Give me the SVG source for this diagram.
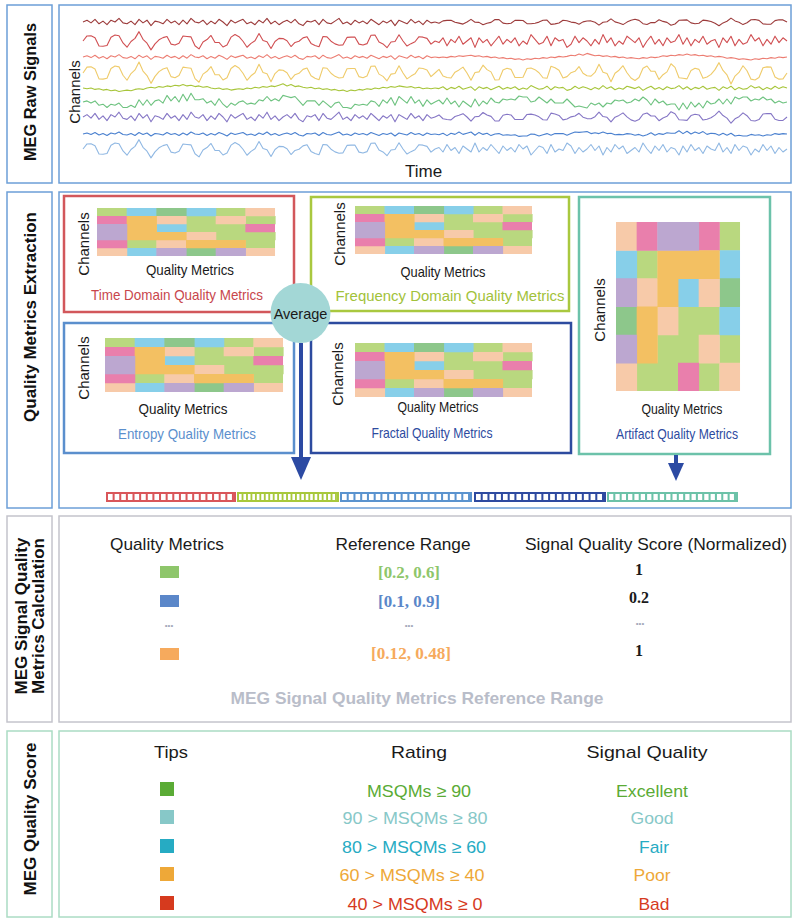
<svg xmlns="http://www.w3.org/2000/svg" xmlns:xlink="http://www.w3.org/1999/xlink" width="796" height="922" viewBox="0 0 796 922">
<style>
text{font-family:"Liberation Sans",Arial,sans-serif;fill:#1a1a1a}
.lab{font-size:17px;font-weight:bold;text-anchor:middle;fill:#111}
.ch{font-size:15px;text-anchor:middle}
.qm{font-size:15px;text-anchor:middle}
.ttl{font-size:15px;text-anchor:middle}
.hd{font-size:17px;text-anchor:middle}
.num{font-family:"Liberation Serif","Times New Roman",serif;font-size:17px;font-weight:bold;text-anchor:middle}
.dots{font-size:8px;text-anchor:middle;fill:#a3a7ba}
.rt{font-size:17px;text-anchor:middle}
.row{fill:#fff;stroke-width:1.5}
.box{fill:#fff;stroke-width:2.5}
</style>
<defs>
<path id="A" fill="none" stroke-width="1.1" stroke-linejoin="round" vector-effect="non-scaling-stroke" d="M0,0 L4,-2 8,1 12,-3 16,2 20,-1 24,3 28,-2 32,0 36,-4 40,1 44,2 48,-1 52,3 56,-3 60,1 64,-2 68,4 72,-1 76,0 80,2 84,-3 88,1 92,-1 96,3 100,-2 104,2 108,-4 112,0 116,1 120,-2 124,3 128,-1 132,2 136,-3 140,0 144,4 148,-2 152,1 156,-1 160,-3 164,2 168,0 172,3 176,-2 180,1 184,-4 188,2 192,-1 196,3 200,0 204,-2 208,1 212,-3 216,2 220,4 224,-1 228,0 232,-2 236,3 240,-3 244,1 248,2 252,-1 256,-4 260,2 264,0 268,3 272,-2 276,1 280,-1 284,2 288,-3 292,0 296,3 300,-1 304,1 308,-2 312,4 316,-2 320,0 324,2 328,-3 332,1 336,-1 340,3 344,-2 348,1 352,0"/>
<path id="B" fill="none" stroke-width="1.1" stroke-linejoin="round" vector-effect="non-scaling-stroke" d="M0,0 L4,1 8,0 12,2 16,1 20,3 24,2 28,4 32,3 36,5 40,4 44,3 48,4 52,2 56,1 60,2 64,0 68,-1 72,0 76,-2 80,-1 84,-3 88,-2 92,-4 96,-3 100,-5 104,-3 108,-4 112,-2 116,-3 120,-1 124,-2 128,0 132,1 136,0 140,2 144,1 148,3 152,2 156,1 160,2 164,0 168,1 172,-1 176,0 180,-2 184,-1 188,-3 192,-2 196,-4 200,-6 204,-3 208,-5 212,-2 216,-3 220,-1 224,0 228,-1 232,1 236,0 240,2 244,1 248,3 252,2 256,4 260,3 264,5 268,3 272,4 276,2 280,3 284,1 288,2 292,0 296,1 300,-1 304,0 308,-2 312,-1 316,-3 320,-2 324,-1 328,-2 332,0 336,-1 340,1 344,0 348,1 352,0"/>
<path id="C" fill="none" stroke-width="1.1" stroke-linejoin="round" vector-effect="non-scaling-stroke" d="M0,0 L4,-4.2 8,-4.4 12,-2.8 16,4.2 20,4.4 24,3.8 28,-3.2 32,-5 36,-4.4 40,1.6 44,5.2 48,0.4 52,-2.2 56,-7.8 60,-1.4 64,1.8 68,7.4 72,2.4 76,-1 80,-2.8 84,-3.8 88,2.6 92,3.4 96,1.8 100,-4.2 104,-3.8 108,-3.4 112,4 116,6.6 120,0.8 124,-1.2 128,-4.6 132,1.2 136,1.2 140,5 144,3.4 148,-3.2 152,-5.4 156,-3.6 160,0.2 164,5.2 168,2 172,-0.2 176,-6.2 180,-0.4 184,0.6 188,6.2 192,0.4 196,-2.2 200,-2 204,-0.2 208,4.6 212,1.2 216,0.2 220,-2.6 224,-3.6 228,2 232,3.8 236,4.8 240,-3.8 244,-3.4 248,0.2 252,2.4 256,3.6 260,3.2 264,-3 268,-3.2 272,-3.2 276,2.6 280,3.4 284,2.2 288,-4.8 292,-5 296,0.8 300,2.4 304,5.6 308,0.8 312,0.4 316,-5.2 320,0 324,4.2 328,2.2 332,0.6 336,-3.6 340,-3.2 344,-2.2 348,2.6 352,0"/>
<path id="D" fill="none" stroke-width="1.1" stroke-linejoin="round" vector-effect="non-scaling-stroke" d="M0,0 L4,-1 8,1 12,-1 16,3 20,2 24,5 28,2 32,3 36,1 40,5 44,5 48,3 52,5 56,-2 60,3 64,-2 68,3 72,-1 76,-2 80,1 84,-6 88,-1 92,-5 96,0 100,-7 104,-1 108,-8 112,-2 116,-2 120,-3 124,1 128,-1 132,3 136,-3 140,2 144,5 148,1 152,3 156,0 160,-1 164,2 168,1 172,2 176,-2 180,-1 184,-5 188,-1 192,-3 196,-1 200,-6 204,-5 208,-4 212,-5 216,-1 220,3 224,-1 228,-1 232,-1 236,3 240,-1 244,2 248,5 252,1 256,0 260,5 264,5 268,6 272,2 276,3 280,2 284,3 288,-1 292,0 296,4 300,-2 304,1 308,-4 312,3 316,-5 320,-2 324,1 328,-5 332,1 336,-2 340,4 344,-2 348,2 352,0"/>
<g id="hm">
<path fill="#b9d87f" d="M0 0h1.02v1.02h-1.02zM4 0h1.02v1.02h-1.02zM3 1h1.02v1.02h-1.02zM5 1h1.02v1.02h-1.02zM3 2h1.02v1.02h-1.02zM4 2h1.02v1.02h-1.02zM4 3h1.02v1.02h-1.02zM5 3h1.02v1.02h-1.02zM1 4h1.02v1.02h-1.02zM5 4h1v1h-1z"/>
<path fill="#87cfe9" d="M1 0h1.02v1.02h-1.02zM3 0h1.02v1.02h-1.02zM2 2h1.02v1.02h-1.02zM1 5h1.02v1h-1.02z"/>
<path fill="#8dc78b" d="M2 0h1.02v1.02h-1.02zM3 5h1.02v1h-1.02z"/>
<path fill="#f7caa9" d="M5 0h1v1.02h-1zM2 1h1.02v1.02h-1.02zM4 1h1.02v1.02h-1.02zM3 3h1.02v1.02h-1.02zM2 4h1.02v1.02h-1.02zM0 5h1.02v1h-1.02zM5 5h1v1h-1z"/>
<path fill="#e97fac" d="M0 1h1.02v1.02h-1.02zM5 2h1v1.02h-1zM0 4h1.02v1.02h-1.02z"/>
<path fill="#f3c062" d="M1 1h1.02v1.02h-1.02zM1 2h1.02v1.02h-1.02zM1 3h1.02v1.02h-1.02zM2 3h1.02v1.02h-1.02zM3 4h1.02v1.02h-1.02zM4 4h1.02v1.02h-1.02z"/>
<path fill="#bca7d0" d="M0 2h1.02v1.02h-1.02zM0 3h1.02v1.02h-1.02zM2 5h1.02v1h-1.02zM4 5h1.02v1h-1.02z"/>
</g>
</defs>

<!-- Row 1 -->
<g id="row1-label">
<rect class="row" x="7" y="5" width="45" height="178" stroke="#6c9fd7"/>
<text class="lab" transform="translate(36,92) rotate(-90)" textLength="138" lengthAdjust="spacingAndGlyphs">MEG Raw Signals</text>
</g>
<g id="raw-signals">
<rect class="row" x="59" y="5" width="732" height="178" stroke="#6c9fd7"/>
<text class="ch" transform="translate(80,92) rotate(-90)">Channels</text>
<text x="405" y="177" style="font-size:17px">Time</text>
<g id="traces">
<use href="#A" transform="translate(83,22) scale(1,0.9)" stroke="#9c3b3b"/>
<use href="#C" transform="translate(787,22) scale(-1,0.5)" stroke="#9c3b3b"/>
<use href="#C" transform="translate(83,41) scale(1,1.2)" stroke="#d04f52"/>
<use href="#A" transform="translate(787,41) scale(-1,1.6)" stroke="#d04f52"/>
<use href="#A" transform="translate(83,57) scale(1,0.6)" stroke="#ec7d72"/>
<use href="#B" transform="translate(787,57) scale(-1,0.6)" stroke="#ec7d72"/>
<use href="#C" transform="translate(83,73) scale(1,1.4)" stroke="#efcb6a"/>
<use href="#C" transform="translate(787,73) scale(-1,-1.4)" stroke="#efcb6a"/>
<use href="#B" transform="translate(83,88) scale(1,0.7)" stroke="#a7c53a"/>
<use href="#A" transform="translate(787,88) scale(-1,0.6)" stroke="#a7c53a"/>
<use href="#D" transform="translate(83,102) scale(1,1.1)" stroke="#6dc27f"/>
<use href="#D" transform="translate(787,102) scale(-1,-1.0)" stroke="#6dc27f"/>
<use href="#A" transform="translate(83,117) scale(1,1.2)" stroke="#8576c5"/>
<use href="#C" transform="translate(787,117) scale(-1,-0.8)" stroke="#8576c5"/>
<use href="#A" transform="translate(83,134) scale(1,0.5)" stroke="#4a80cf"/>
<use href="#D" transform="translate(787,134) scale(-1,0.4)" stroke="#4a80cf"/>
<use href="#C" transform="translate(83,149) scale(1,1.2)" stroke="#90b8e3"/>
<use href="#A" transform="translate(787,149) scale(-1,-1.5)" stroke="#90b8e3"/>
</g>
</g>

<!-- Row 2 -->
<g id="row2-label">
<rect class="row" x="7" y="192" width="45" height="316" stroke="#6c9fd7"/>
<text class="lab" transform="translate(36,317) rotate(-90)" textLength="210" lengthAdjust="spacingAndGlyphs">Quality Metrics Extraction</text>
</g>
<g id="extraction-panel">
<rect class="row" x="59" y="192" width="732" height="316" stroke="#6c9fd7"/>
</g>
<g id="time-domain">
<rect class="box" x="64" y="196" width="230" height="116" stroke="#d2575b"/>
<use href="#hm" transform="translate(97,208) scale(29.67,8)"/>
<text class="ch" transform="translate(89,244) rotate(-90)">Channels</text>
<text class="qm" x="190" y="275" textLength="88" lengthAdjust="spacingAndGlyphs">Quality Metrics</text>
<text class="ttl" x="177" y="300" style="fill:#c8464c" textLength="172" lengthAdjust="spacingAndGlyphs">Time Domain Quality Metrics</text>
</g>
<g id="frequency-domain">
<rect class="box" x="311" y="197" width="258" height="114" stroke="#a9c83f"/>
<use href="#hm" transform="translate(355,206) scale(29.5,8)"/>
<text class="ch" transform="translate(345,234) rotate(-90)">Channels</text>
<text class="qm" x="443" y="277" textLength="85" lengthAdjust="spacingAndGlyphs">Quality Metrics</text>
<text class="ttl" x="450" y="301" style="fill:#a2c23a" textLength="229" lengthAdjust="spacingAndGlyphs">Frequency Domain Quality Metrics</text>
</g>
<g id="entropy">
<rect class="box" x="64" y="323" width="230" height="130" stroke="#5b8fcd"/>
<use href="#hm" transform="translate(105,338) scale(29.67,9)"/>
<text class="ch" transform="translate(89,368) rotate(-90)">Channels</text>
<text class="qm" x="183" y="414" textLength="89" lengthAdjust="spacingAndGlyphs">Quality Metrics</text>
<text class="ttl" x="187" y="439" style="fill:#5b8fcd" textLength="138" lengthAdjust="spacingAndGlyphs">Entropy Quality Metrics</text>
</g>
<g id="fractal">
<rect class="box" x="311" y="323" width="260" height="130" stroke="#2d4b9f"/>
<use href="#hm" transform="translate(355,343) scale(29.5,9)"/>
<text class="ch" transform="translate(343,374) rotate(-90)">Channels</text>
<text class="qm" x="438" y="412" textLength="81" lengthAdjust="spacingAndGlyphs">Quality Metrics</text>
<text class="ttl" x="432" y="438" style="fill:#2d4b9f" textLength="121" lengthAdjust="spacingAndGlyphs">Fractal Quality Metrics</text>
</g>
<g id="artifact">
<rect class="box" x="579" y="197" width="191" height="257" stroke="#6cc2aa"/>
<g transform="translate(616,222) scale(20.67,28.17)">
<path fill="#b9d87f" d="M5 0h1v1.02h-1zM1 1h1.02v1.02h-1.02zM3 3h1.02v1.02h-1.02zM4 3h1.02v1.02h-1.02zM2 4h1.02v1.02h-1.02zM3 4h1.02v1.02h-1.02zM5 4h1v1.02h-1zM1 5h1.02v1h-1.02zM2 5h1.02v1h-1.02zM4 5h1.02v1h-1.02z"/>
<path fill="#87cfe9" d="M0 1h1.02v1.02h-1.02zM5 1h1v1.02h-1zM3 2h1.02v1.02h-1.02zM5 3h1v1.02h-1z"/>
<path fill="#8dc78b" d="M5 2h1v1.02h-1zM0 3h1.02v1.02h-1.02z"/>
<path fill="#f7caa9" d="M0 0h1.02v1.02h-1.02zM1 2h1.02v1.02h-1.02zM4 2h1.02v1.02h-1.02zM2 3h1.02v1.02h-1.02zM4 4h1.02v1.02h-1.02zM0 5h1.02v1h-1.02zM5 5h1v1h-1z"/>
<path fill="#e97fac" d="M1 0h1.02v1.02h-1.02zM4 0h1.02v1.02h-1.02zM3 5h1.02v1h-1.02z"/>
<path fill="#f3c062" d="M2 1h1.02v1.02h-1.02zM3 1h1.02v1.02h-1.02zM4 1h1.02v1.02h-1.02zM2 2h1.02v1.02h-1.02zM1 3h1.02v1.02h-1.02zM1 4h1.02v1.02h-1.02z"/>
<path fill="#bca7d0" d="M2 0h1.02v1.02h-1.02zM3 0h1.02v1.02h-1.02zM0 2h1.02v1.02h-1.02zM0 4h1.02v1.02h-1.02z"/>
</g>
<text class="ch" transform="translate(605,310) rotate(-90)">Channels</text>
<text class="qm" x="682" y="414" textLength="81" lengthAdjust="spacingAndGlyphs">Quality Metrics</text>
<text class="ttl" x="677" y="439" style="fill:#2d4b9f" textLength="122" lengthAdjust="spacingAndGlyphs">Artifact Quality Metrics</text>
</g>
<g id="average">
<circle cx="300.5" cy="313" r="30" fill="#a3d7d6"/>
<text x="300.5" y="319" style="font-size:14.5px;text-anchor:middle">Average</text>
</g>
<g id="connectors">
<rect x="299" y="343" width="4" height="117" fill="#2c4aa3"/>
<path d="M291,457 L311,457 L301,480 Z" fill="#2c4aa3"/>
<rect x="674" y="455" width="4" height="10" fill="#2c4aa3"/>
<path d="M668,463 L684,463 L676,481 Z" fill="#2c4aa3"/>
</g>
<g id="feature-vector">
<rect x="106" y="492" width="130" height="10" fill="#d9565a"/>
<line x1="108" y1="497" x2="234" y2="497" stroke="#fff" stroke-width="6" stroke-dasharray="4.6 2.03"/>
<rect x="237" y="492" width="102" height="10" fill="#a8c83c"/>
<line x1="239" y1="497" x2="337" y2="497" stroke="#fff" stroke-width="6" stroke-dasharray="2.6 1.85"/>
<rect x="340" y="492" width="132" height="10" fill="#5a93cf"/>
<line x1="342" y1="497" x2="470" y2="497" stroke="#fff" stroke-width="6" stroke-dasharray="4.7 2.04"/>
<rect x="474" y="492" width="132" height="10" fill="#2e4aa0"/>
<line x1="476" y1="497" x2="604" y2="497" stroke="#fff" stroke-width="6" stroke-dasharray="4.7 2.04"/>
<rect x="607" y="492" width="131" height="10" fill="#6cc2a8"/>
<line x1="609" y1="497" x2="736" y2="497" stroke="#fff" stroke-width="6" stroke-dasharray="4.3 2.05"/>
</g>

<!-- Row 3 -->
<g id="row3-label">
<rect class="row" x="7" y="516" width="45" height="206" stroke="#c4c4cc"/>
<text class="lab" transform="translate(27,616) rotate(-90)">MEG Signal Quality</text>
<text class="lab" transform="translate(44,616) rotate(-90)">Metrics Calculation</text>
</g>
<g id="calculation-panel">
<rect class="row" x="59" y="516" width="732" height="206" stroke="#c4c4cc"/>
<text class="hd" x="167" y="550" textLength="114" lengthAdjust="spacingAndGlyphs">Quality Metrics</text>
<text class="hd" x="403" y="550" textLength="135" lengthAdjust="spacingAndGlyphs">Reference Range</text>
<text class="hd" x="656" y="550" textLength="262" lengthAdjust="spacingAndGlyphs">Signal Quality Score (Normalized)</text>
<rect x="160" y="566" width="19" height="12" fill="#8ec66b"/>
<rect x="160" y="595" width="19" height="12" fill="#5b87c9"/>
<text class="dots" x="169" y="628">•••</text>
<rect x="160" y="648" width="19" height="12" fill="#f6aa5d"/>
<text class="num" x="409" y="578" style="fill:#8ec66b" textLength="62" lengthAdjust="spacingAndGlyphs">[0.2, 0.6]</text>
<text class="num" x="409" y="607" style="fill:#5b87c9" textLength="62" lengthAdjust="spacingAndGlyphs">[0.1, 0.9]</text>
<text class="dots" x="409" y="628">•••</text>
<text class="num" x="411" y="659" style="fill:#f6aa5d" textLength="80" lengthAdjust="spacingAndGlyphs">[0.12, 0.48]</text>
<text class="num" x="639" y="575" style="font-size:16px">1</text>
<text class="num" x="639" y="603" style="font-size:16px">0.2</text>
<text class="dots" x="640" y="626">•••</text>
<text class="num" x="639" y="656" style="font-size:16px">1</text>
<text x="417" y="704" style="font-size:16.5px;font-weight:bold;text-anchor:middle;fill:#b9bdc9" textLength="373" lengthAdjust="spacingAndGlyphs">MEG Signal Quality Metrics Reference Range</text>
</g>

<!-- Row 4 -->
<g id="row4-label">
<rect class="row" x="7" y="731" width="45" height="186" stroke="#abdcc4"/>
<text class="lab" transform="translate(36,819) rotate(-90)">MEG Quality Score</text>
</g>
<g id="score-panel">
<rect class="row" x="59" y="731" width="732" height="186" stroke="#abdcc4"/>
<text class="hd" x="171" y="758" textLength="34" lengthAdjust="spacingAndGlyphs">Tips</text>
<text class="hd" x="419" y="758" textLength="56" lengthAdjust="spacingAndGlyphs">Rating</text>
<text class="hd" x="647" y="758" textLength="121" lengthAdjust="spacingAndGlyphs">Signal Quality</text>
<rect x="160" y="782" width="14" height="14" fill="#5aab35"/>
<rect x="160" y="810" width="14" height="14" fill="#87c8c8"/>
<rect x="160" y="839" width="14" height="14" fill="#26abc3"/>
<rect x="160" y="867" width="14" height="14" fill="#eea838"/>
<rect x="160" y="896" width="14" height="14" fill="#d63a1e"/>
<text class="rt" x="419" y="797" style="fill:#5aab35" textLength="104" lengthAdjust="spacingAndGlyphs">MSQMs ≥ 90</text>
<text class="rt" x="415" y="824" style="fill:#87c8c8" textLength="145" lengthAdjust="spacingAndGlyphs">90 &gt; MSQMs ≥ 80</text>
<text class="rt" x="414" y="853" style="fill:#26abc3" textLength="144" lengthAdjust="spacingAndGlyphs">80 &gt; MSQMs ≥ 60</text>
<text class="rt" x="412" y="881" style="fill:#eea838" textLength="145" lengthAdjust="spacingAndGlyphs">60 &gt; MSQMs ≥ 40</text>
<text class="rt" x="415" y="910" style="fill:#d63a1e" textLength="135" lengthAdjust="spacingAndGlyphs">40 &gt; MSQMs ≥ 0</text>
<text class="rt" x="652" y="797" style="fill:#5aab35" textLength="72" lengthAdjust="spacingAndGlyphs">Excellent</text>
<text class="rt" x="652" y="824" style="fill:#87c8c8" textLength="43" lengthAdjust="spacingAndGlyphs">Good</text>
<text class="rt" x="654" y="853" style="fill:#26abc3" textLength="30" lengthAdjust="spacingAndGlyphs">Fair</text>
<text class="rt" x="652" y="881" style="fill:#eea838" textLength="37" lengthAdjust="spacingAndGlyphs">Poor</text>
<text class="rt" x="654" y="910" style="fill:#d63a1e" textLength="31" lengthAdjust="spacingAndGlyphs">Bad</text>
</g>
</svg>
